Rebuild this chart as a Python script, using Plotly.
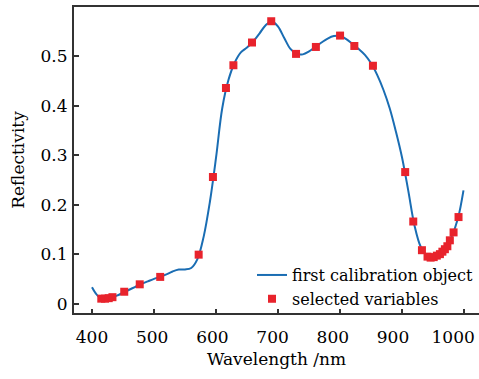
import plotly.graph_objects as go

# Continuous reflectivity curve (first calibration object)
curve_wavelength = [400, 410, 420, 430, 440, 450, 460, 470, 480, 490, 500, 510, 520, 530, 540,
                    550, 560, 570, 580, 590, 600, 610, 620, 630, 640, 650, 660, 670, 680, 690,
                    700, 710, 720, 730, 740, 750, 760, 770, 780, 790, 800, 810, 820, 830, 840,
                    850, 860, 870, 880, 890, 900, 910, 920, 930, 940, 950, 960, 970, 980, 990, 999]
curve_reflect = [0.033, 0.015, 0.010, 0.012, 0.016, 0.022, 0.028, 0.034, 0.040, 0.045, 0.050,
                 0.054, 0.059, 0.065, 0.069, 0.069, 0.072, 0.090, 0.135, 0.205, 0.295, 0.395,
                 0.452, 0.487, 0.508, 0.518, 0.530, 0.546, 0.563, 0.571, 0.560, 0.537, 0.515,
                 0.505, 0.504, 0.510, 0.519, 0.528, 0.536, 0.541, 0.541, 0.535, 0.525, 0.515,
                 0.503, 0.486, 0.462, 0.432, 0.395, 0.348, 0.295, 0.228, 0.158, 0.115, 0.097,
                 0.093, 0.098, 0.113, 0.136, 0.172, 0.229]

# Selected variables
sel_wavelength = [415, 421, 427, 433, 452, 477, 510, 572, 595, 616, 628, 658, 689, 729, 761,
                  800, 823, 853, 905, 918, 932, 941, 946, 951, 956, 961, 965, 969, 973, 977,
                  983, 991]
sel_reflect = [0.010, 0.010, 0.011, 0.013, 0.024, 0.039, 0.054, 0.099, 0.256, 0.436, 0.482,
               0.528, 0.571, 0.505, 0.519, 0.542, 0.521, 0.481, 0.266, 0.166, 0.108, 0.095,
               0.093, 0.094, 0.097, 0.100, 0.105, 0.110, 0.116, 0.128, 0.144, 0.175]

x_ticks = [400, 500, 600, 700, 800, 900, 1000]
y_ticks = [0, 0.1, 0.2, 0.3, 0.4, 0.5]
y_tick_labels = ["0", "0.1", "0.2", "0.3", "0.4", "0.5"]

FONT = "DejaVu Serif"
AXIS_COLOR = "#333333"

fig = go.Figure()
fig.add_trace(go.Scatter(
    x=curve_wavelength, y=curve_reflect, mode="lines",
    line=dict(color="#1a6db3", width=2, shape="spline", smoothing=1.0),
    name="first calibration object"))
fig.add_trace(go.Scatter(
    x=sel_wavelength, y=sel_reflect, mode="markers",
    marker=dict(symbol="square", size=8, color="#e8232c", line=dict(width=0)),
    name="selected variables"))
# empty helper trace so the label-only axis is drawn
fig.add_trace(go.Scatter(x=[], y=[], xaxis="x2", showlegend=False, hoverinfo="skip"))

fig.update_layout(
    width=479, height=379,
    margin=dict(l=74, r=0, t=7, b=66),
    plot_bgcolor="white", paper_bgcolor="white",
    font=dict(family=FONT, size=16, color="black"),
    showlegend=True,
    legend=dict(x=1.0, xanchor="right", y=-0.01, yanchor="bottom",
                bgcolor="rgba(0,0,0,0)", font=dict(family=FONT, size=16),
                tracegroupgap=0, itemwidth=30),
    xaxis=dict(range=[371, 1024], tickvals=x_ticks, ticks="inside", ticklen=4,
               tickwidth=1.5, tickcolor=AXIS_COLOR, showline=True, linecolor=AXIS_COLOR,
               linewidth=2, mirror=True, showgrid=False, zeroline=False,
               showticklabels=False, automargin=False,
               title=dict(text="Wavelength /nm", font=dict(family=FONT, size=17), standoff=39)),
    xaxis2=dict(overlaying="x", side="bottom", range=[370.1, 1042.9], tickvals=x_ticks,
                ticks="", showline=False, showgrid=False, zeroline=False,
                ticklabelstandoff=12, tickfont=dict(family=FONT, size=17), automargin=False,
                ticklabeloverflow="allow"),
    yaxis=dict(range=[-0.019, 0.5998], tickvals=y_ticks, ticktext=y_tick_labels,
               ticks="inside", ticklen=5, tickwidth=1.5, tickcolor=AXIS_COLOR,
               showline=True, linecolor=AXIS_COLOR, linewidth=2, mirror=False,
               showgrid=False, zeroline=False, ticklabelstandoff=1,
               tickfont=dict(family=FONT, size=17), automargin=False,
               title=dict(text="Reflectivity", font=dict(family=FONT, size=17), standoff=12)),
)

fig.write_html("out.html", config={"displayModeBar": False},
               post_script="document.body.style.margin='0px';")
